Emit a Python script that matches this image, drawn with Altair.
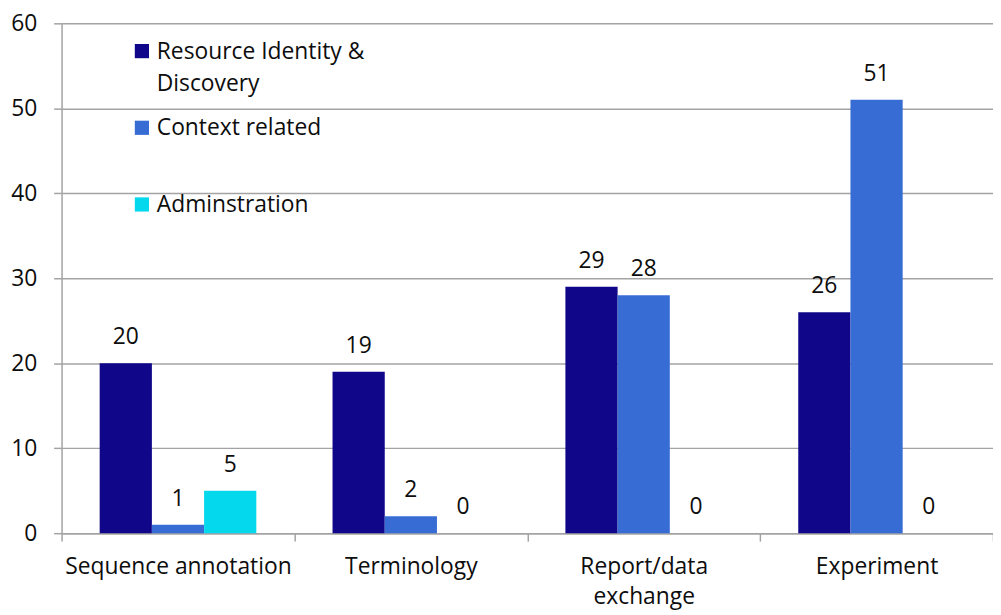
import altair as alt
import pandas as pd

categories = ["Sequence annotation", "Terminology", "Report/data exchange", "Experiment"]
series = ["Resource Identity & Discovery", "Context related", "Adminstration"]
legend_lines = [["Resource Identity &", "Discovery"], ["Context related"], ["Adminstration"]]
resource_identity = [20, 19, 29, 26]
context_related = [1, 2, 28, 51]
adminstration = [5, 0, 0, 0]
y_ticks = [0, 10, 20, 30, 40, 50, 60]
colors = ["#100689", "#386CD5", "#04D8EC"]

rows = []
for s, vals in zip(series, [resource_identity, context_related, adminstration]):
    for c, v in zip(categories, vals):
        rows.append({"category": c, "series": s, "value": v})
df = pd.DataFrame(rows)

FONT = "Open Sans"
FS = 23
GRID = "#A3A3A3"
TXT = "#0d0d0d"

x_enc = alt.X(
    "category:N",
    sort=categories,
    scale=alt.Scale(paddingInner=0, paddingOuter=0),
    axis=alt.Axis(
        title=None,
        labelAngle=0,
        tickBand="extent",
        tickSize=8,
        labelPadding=15,
        labelFontSize=FS,
        labelFont=FONT,
        labelColor=TXT,
        labelLineHeight=30,
        labelLimit=0,
        labelExpr="datum.value == 'Report/data exchange' ? ['Report/data', 'exchange'] : datum.value",
        domainColor=GRID,
        tickColor=GRID,
        domainWidth=1.5,
        tickWidth=1.5,
        grid=False,
    ),
)
xoff = alt.XOffset("series:N", sort=series, scale=alt.Scale(paddingInner=0, paddingOuter=0.73))
y_enc = alt.Y(
    "value:Q",
    scale=alt.Scale(domain=[0, 60], nice=False),
    axis=alt.Axis(
        title=None,
        values=y_ticks,
        tickSize=8,
        labelPadding=17,
        labelFontSize=FS,
        labelFont=FONT,
        labelColor=TXT,
        domainColor=GRID,
        tickColor=GRID,
        gridColor=GRID,
        domainWidth=1.5,
        tickWidth=1.5,
        gridWidth=1.5,
        grid=True,
    ),
)
color_enc = alt.Color("series:N", sort=series, scale=alt.Scale(domain=series, range=colors), legend=None)

bars = alt.Chart(df).mark_bar().encode(x=x_enc, xOffset=xoff, y=y_enc, color=color_enc)
labels = alt.Chart(df).mark_text(
    baseline="alphabetic", dy=-19, fontSize=FS, font=FONT, color=TXT
).encode(x=x_enc, xOffset=xoff, y=y_enc, text="value:Q")

layers = [bars, labels]
for i, s in enumerate(series):
    ld = pd.DataFrame({"series": [s]})
    sq = alt.Chart(ld).mark_square(size=205, opacity=1, color=colors[i]).encode(
        x=alt.value(81), y=alt.value(28 + i * 77.3)
    )
    tx = alt.Chart(ld).mark_text(
        align="left", baseline="alphabetic", fontSize=FS, font=FONT, color=TXT, lineHeight=32
    ).encode(x=alt.value(96), y=alt.value(36 + i * 77), text=alt.value(legend_lines[i]))
    layers += [sq, tx]

chart = alt.layer(*layers).properties(
    width=939,
    height=514,
    autosize=alt.AutoSizeParams(type="none"),
    padding={"left": 54, "top": 13, "right": 0, "bottom": 78},
).configure_view(strokeWidth=0)

chart.save("out.html", embed_options={"renderer": "svg", "actions": False})
